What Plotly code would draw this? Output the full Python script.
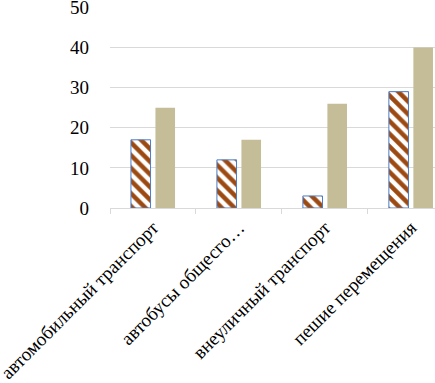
import plotly.graph_objects as go

categories = ["автомобильный транспорт", "автобусы общесго…", "внеуличный транспорт", "пешие перемещения"]
series_a = [17, 12, 3, 29]
series_b = [25, 17, 26, 40]
y_ticks = [0, 10, 20, 30, 40, 50]

fig = go.Figure()
fig.add_trace(go.Bar(
    x=categories, y=series_a, name="A",
    marker=dict(color="white",
                line=dict(color="#4A7CC9", width=1),
                pattern=dict(shape="\\", fgcolor="#9C4A12", bgcolor="white",
                             fgopacity=1, size=9, solidity=0.5)),
))
fig.add_trace(go.Bar(
    x=categories, y=series_b, name="B",
    marker=dict(color="#C4BD97", line=dict(width=0)),
))

fig.update_layout(
    width=435, height=383,
    margin=dict(l=110, r=0, t=7, b=175),
    paper_bgcolor="white", plot_bgcolor="white",
    showlegend=False,
    barmode="group", bargap=0.43, bargroupgap=0.2,
    font=dict(family="Liberation Serif, Times New Roman, serif", color="#000000", size=19),
)
fig.update_xaxes(
    type="category", range=[-0.5, 3.28],
    showline=True, linecolor="#D9D9D9", linewidth=1,
    ticks="outside", tickson="boundaries", ticklen=5, tickcolor="#D9D9D9",
    tickangle=-45, tickfont=dict(size=19), automargin=False,
    ticklabeloverflow="allow",
    showgrid=False,
)
fig.update_yaxes(
    range=[0, 50.1], tickvals=y_ticks,
    showgrid=True, gridcolor="#D9D9D9", gridwidth=1,
    zeroline=False, showline=False, ticks="",
    tickfont=dict(size=19), ticklabelstandoff=20, automargin=False,
    ticklabeloverflow="allow",
)
fig.write_html("out.html", config={"displayModeBar": False},
               post_script="document.body.style.margin='0';document.body.style.overflow='hidden';")
